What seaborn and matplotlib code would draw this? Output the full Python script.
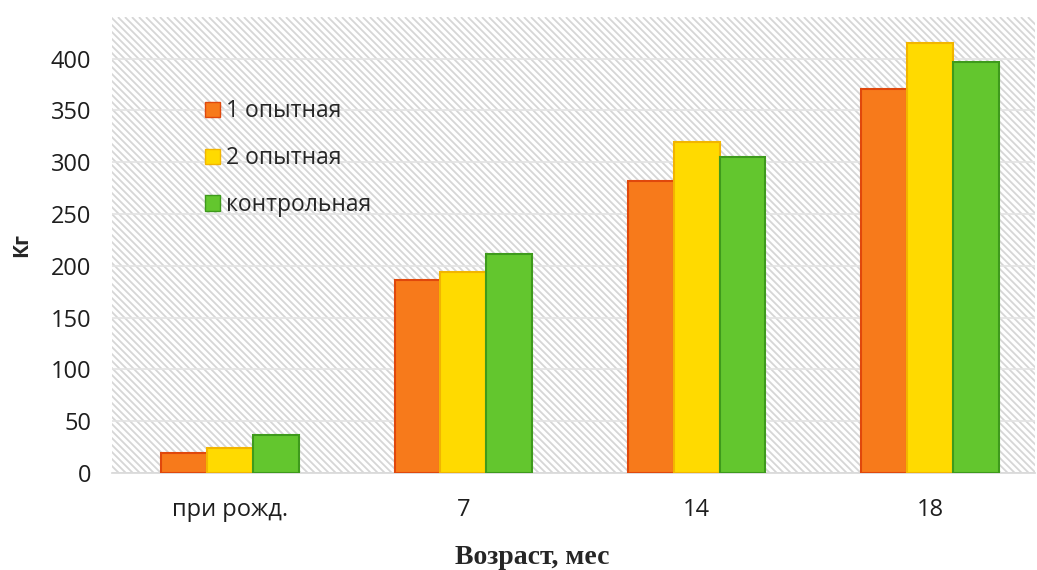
import numpy as np
import pandas as pd
import matplotlib
matplotlib.use("Agg")
import matplotlib.pyplot as plt
import seaborn as sns
from matplotlib.collections import LineCollection

# values
ages = ['при рожд.', '7', '14', '18']
group_names = ['1 опытная', '2 опытная', 'контрольная']
opyt1 = [19, 186, 282, 371]
opyt2 = [24, 194, 319, 415]
control = [37, 211, 305, 397]

colors = ['#F77A1B', '#FFDA00', '#63C62E']
edges = ['#E0480C', '#F2B500', '#3E9A1C']

df = pd.DataFrame({
    'age': ages * 3,
    'group': [g for g in group_names for _ in ages],
    'kg': opyt1 + opyt2 + control,
})

sns.set_theme(style='white')
plt.rcParams['font.family'] = ['Open Sans', 'DejaVu Sans']

fig = plt.figure(figsize=(10.37, 5.70), dpi=100)
ax = fig.add_axes([0.108, 0.170, 0.890, 0.800])

# diagonal striped background (decoration), ~7 px apart
w_px, h_px = 923, 456
starts = np.arange(-h_px, w_px, 7)
segs = [[(s / w_px, 1.0), ((s + h_px) / w_px, 0.0)] for s in starts]
stripes = LineCollection(segs, colors='#d6d6d6', linewidths=1.3,
                         transform=ax.transAxes, zorder=0)
ax.add_collection(stripes)

sns.barplot(data=df, x='age', y='kg', hue='group', palette=colors,
            width=0.59, saturation=1, ax=ax, zorder=3)

for i, cont in enumerate(ax.containers):
    for bar in cont:
        bar.set_edgecolor(edges[i])
        bar.set_linewidth(1.5)

ax.set_xlim(-0.506, 3.45)
ax.set_ylim(0, 440)
ax.set_yticks(range(0, 401, 50))
ax.yaxis.grid(True, color='#e3e3e3', linewidth=1.2, zorder=1)
ax.set_axisbelow(True)
for s in ['left', 'right', 'top']:
    ax.spines[s].set_visible(False)
ax.spines['bottom'].set_color('#d9d9d9')
ax.tick_params(axis='both', length=0, labelsize=17, colors='#1e1e1e')
ax.tick_params(axis='x', pad=18)
ax.tick_params(axis='y', pad=15)

ax.set_ylabel('Кг', fontsize=15, fontweight='bold')
ax.yaxis.set_label_coords(-0.086, 0.5)
ax.set_xlabel('Возраст, мес', fontsize=20, fontweight='bold',
              family=['Liberation Serif', 'DejaVu Serif'])
ax.xaxis.set_label_coords(0.455, -0.157)

handles, labels = ax.get_legend_handles_labels()
for h, e in zip(handles, edges):
    h.set_edgecolor(e)
ax.legend(handles, labels, loc='upper left', bbox_to_anchor=(0.078, 0.865),
          frameon=False, fontsize=16.5, labelspacing=1.0, handlelength=0.65,
          handleheight=0.65, handletextpad=0.3)

fig.savefig('out.png', dpi=100)
